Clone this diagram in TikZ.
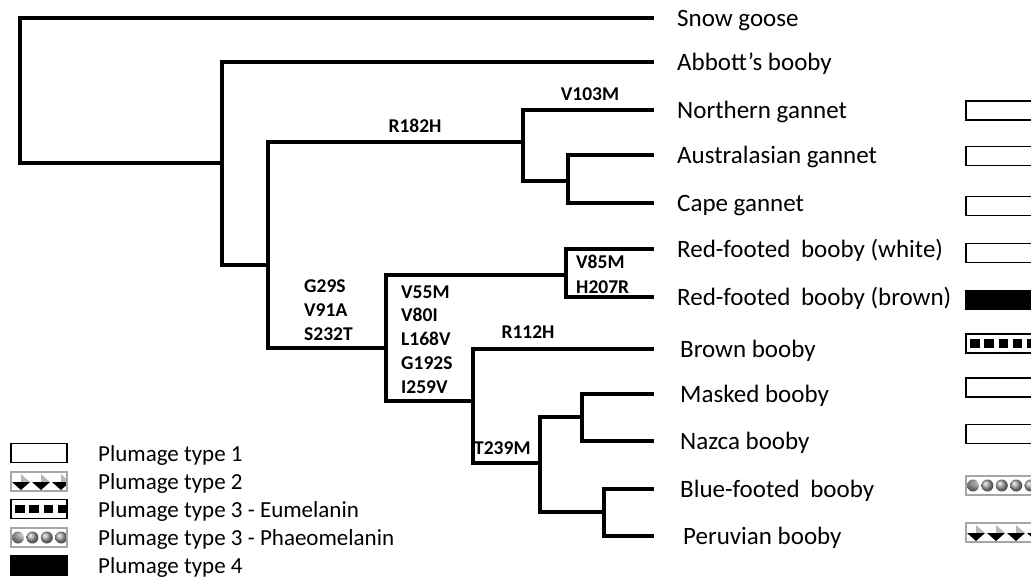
\documentclass[tikz,border=0pt]{standalone}
\usepackage{fontspec}
\setmainfont{Carlito}
\usetikzlibrary{positioning}
\tikzset{
  branch/.style={line width=3.5pt, line cap=rect},
  sp/.style={font=\fontsize{25}{30}\selectfont, inner sep=0pt, anchor=base west},
  mut/.style={font=\bfseries\fontsize{19.5}{24}\selectfont, inner sep=0pt},
  leg/.style={font=\fontsize{23}{28}\selectfont, inner sep=0pt, anchor=base west},
  plum/.style={rectangle, inner sep=0pt, outer sep=0pt, minimum height=19pt, line width=1.3pt},
  plumOne/.style={plum, draw=black, fill=white},
  plumTwo/.style={plum, draw=gray!70, fill=white, path picture={
    \foreach \u in {0,...,4} {
      \fill[gray!55] ([xshift=10pt+20pt*\u, yshift=-2pt]path picture bounding box.north west)
        -- ++(9,8) -- ++(-9,0) -- cycle;
      \fill[black] ([xshift=1pt+20pt*\u, yshift=-10pt]path picture bounding box.north west)
        -- ++(18,0) -- ++(-9,8) -- cycle;
    }}},
  plumThree/.style={plum, draw=black, fill=white, path picture={
    \foreach \u in {0,...,5}
      \fill[black] ([xshift=4pt+14.3pt*\u, yshift=-5pt]path picture bounding box.north west)
        rectangle ++(9.5,8.5);
    }},
  plumFour/.style={plum, draw=gray!70, fill=white, path picture={
    \foreach \u in {0,...,5}
      \shade[ball color=gray!70] ([xshift=7pt+14.4pt*\u, yshift=-9.5pt]path picture bounding box.north west)
        circle[radius=6pt];
    }},
  plumFive/.style={plum, draw=black, fill=black},
}

\begin{document}
\begin{tikzpicture}[x=1pt, y=-1pt]
  \useasboundingbox (0,0) rectangle (1031,579);
  \clip (0,0) rectangle (1031,579);

  % inner nodes of the tree
  \coordinate (root) at (20,163);
  \coordinate (n1) at (222,163);
  \coordinate (n2) at (268,265);
  \coordinate (n3) at (523,142);
  \coordinate (n4) at (568,181);
  \coordinate (n5) at (386,348);
  \coordinate (n6) at (566,275);
  \coordinate (n7) at (473,401);
  \coordinate (n8) at (540,463);
  \coordinate (n9) at (582,417);
  \coordinate (n10) at (604,512);

  % tips and species names
  \foreach \y/\dx/\txt [count=\k] in {
     18/25/Snow goose, 62/25/Abbott's booby, 110/25/Northern gannet,
     155/25/Australasian gannet, 203/25/Cape gannet,
     249/25/{Red-footed\hspace{5pt} booby (white)}, 297/25/{Red-footed\hspace{5pt} booby (brown)},
     349/28/Brown booby, 394/28/Masked booby, 441/28/Nazca booby,
     489/28/{Blue-footed\hspace{5pt} booby}, 536/31/Peruvian booby} {
    \coordinate (l\k) at (652,\y);
    \node[sp] (t\k) at ([xshift=\dx pt, yshift=-8pt]l\k) {\txt};
  }

  \foreach \a/\b in {root/l1, root/n1, n1/l2, n1/n2, n2/n3, n3/l3, n3/n4, n4/l4, n4/l5,
      n2/n5, n5/n6, n6/l6, n6/l7, n5/n7, n7/l8, n7/n8, n8/n9, n9/l9, n9/l10, n8/n10, n10/l11, n10/l12}
    \draw[branch] (\a) |- (\b);

  % substitutions
  \node[mut, anchor=base] (mR182) at (415,132) {R182H};
  \node[mut, anchor=base] (mV103) at (590,100) {V103M};
  \node[mut, anchor=base] (mR112) at (528,338) {R112H};
  \node[mut, anchor=base west] (mT239) at (474,454) {T239M};
  \foreach \m [count=\k] in {G29S, V91A, S232T}
    \node[mut, anchor=base west] (mA\k) at (304,268+24*\k) {\m};
  \foreach \m [count=\k] in {V55M, V80I, L168V, G192S, I259V}
    \node[mut, anchor=base west] (mB\k) at (401,274.2+23.8*\k) {\m};
  \foreach \m [count=\k] in {V85M, H207R}
    \node[mut, anchor=base west] (mC\k) at (576,243+25*\k) {\m};

  % plumage of each species
  \foreach \k/\pl/\by in {3/plumOne/110.5, 4/plumOne/156, 5/plumOne/206, 6/plumOne/253,
      7/plumFive/300, 8/plumThree/343.5, 9/plumOne/387.5, 10/plumOne/434,
      11/plumFour/485.5, 12/plumTwo/532.5}
    \node[\pl, minimum width=75pt, anchor=west] (b\k) at (966,\by) {};

  % legend
  \foreach \pl/\by/\txt [count=\k] in {plumOne/453/Plumage type 1, plumTwo/481.5/Plumage type 2,
      plumThree/509/{Plumage type 3 - Eumelanin}, plumFour/537.5/{Plumage type 3 - Phaeomelanin},
      plumFive/565.5/Plumage type 4} {
    \node[\pl, minimum width=56pt, anchor=west] (lg\k) at (11,\by) {};
    \node[leg] (lt\k) at (98,\by+8) {\txt};
  }
\end{tikzpicture}
\end{document}
